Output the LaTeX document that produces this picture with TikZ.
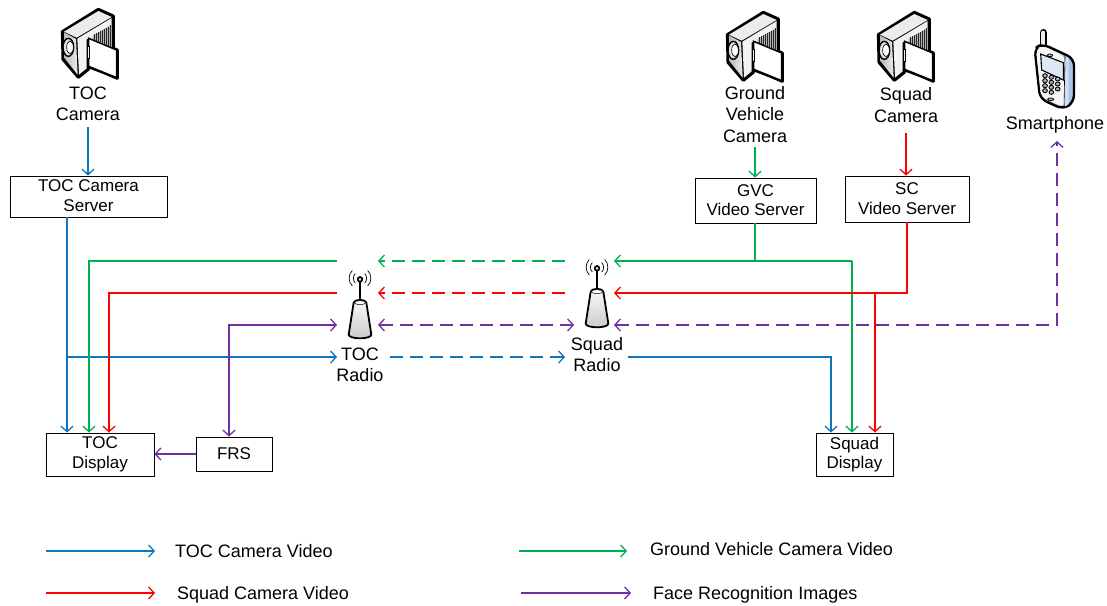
\documentclass[tikz,border=0pt]{standalone}
\usepackage{fontspec}
\setmainfont{Liberation Sans}
\usetikzlibrary{arrows.meta,calc}
\definecolor{cblue}{HTML}{0F75BD}
\definecolor{cgreen}{HTML}{00B050}
\definecolor{cred}{HTML}{FF0000}
\definecolor{cpurple}{HTML}{7030A0}
\definecolor{phblue}{HTML}{A9C4E6}
\tikzset{
  x=1pt,y=-1pt,
  conn/.style={line width=1.3pt,-{Straight Barb[length=5.5pt,width=12pt,line width=1.3pt]}},
  plainln/.style={line width=1.3pt},
  bothln/.style={line width=1.3pt,{Straight Barb[length=5.5pt,width=12pt,line width=1.3pt]}-{Straight Barb[length=5.5pt,width=12pt,line width=1.3pt]}},
  dashln/.style={dash pattern=on 13pt off 7pt},
  lab/.style={align=center,inner sep=0pt,font=\fontsize{18}{21.5}\selectfont},
  legendtxt/.style={inner sep=0pt,font=\fontsize{18}{21}\selectfont},
  boxn/.style={draw,line width=0.9pt,fill=white,align=center,inner sep=0pt,font=\fontsize{17}{20}\selectfont},
  camera/.pic={
    \begin{scope}[scale=1/3]
      \fill[black,draw=black,line width=3pt,line join=round]
        (97,95)--(205,28)--(250,48)--(250,145)--(262,150)--(262,235)--(222,218)--(175,200)--(175,208)--(145,232)--(99,178)--cycle;
      \fill[gray!15] (102,95)--(205,33)--(245,51)--(140,113)--cycle;
      \shade[left color=gray!55,right color=gray!15] (102,97)--(138,117)--(143,224)--(103,174)--cycle;
      \fill[gray!10] (142,116)--(245,54)--(245,145)--(178,115)--(170,118)--(170,205)--(147,224)--cycle;
      \fill[gray!60] (188,108)--(245,74)--(245,140)--(188,118)--cycle;
      \foreach \u in {194,200,...,242}{\draw[black!85,line width=.4pt] (\u,{105-(\u-190)*.55})--(\u,{118+(\u-190)*.42});}
      \draw[line width=1.4pt,fill=gray!25] (115,142) ellipse (16 and 27);
      \draw[line width=.6pt,fill=white] (120,142) ellipse (10 and 19);
      \draw[line width=1.5pt,fill=white] (176,115)--(260,150)--(260,233)--(176,199)--cycle;
      \draw[line width=.9pt,fill=gray!10] (171,140) rectangle (178,175);
    \end{scope}
  },
  radio/.pic={
    \begin{scope}[scale=1/3]
      \draw[line width=.7pt] (106,99) arc[start angle=135,end angle=225,radius=20];
      \draw[line width=.7pt] (134,99) arc[start angle=45,end angle=-45,radius=20];
      \draw[line width=.7pt] (97,108) arc[start angle=135,end angle=225,radius=33];
      \draw[line width=.7pt] (143,108) arc[start angle=45,end angle=-45,radius=33];
      \draw[line width=1.8pt] (120,90)--(120,152);
      \draw[line width=1.6pt,fill=gray!30] (120,88) circle (7);
      \draw[line width=1.8pt,top color=gray!5,bottom color=gray!40] (101,158)--(86,254) arc[start angle=180,end angle=0,x radius=34,y radius=11]--(139,158) arc[start angle=0,end angle=-180,x radius=19,y radius=8];
      \draw[line width=.5pt,fill=white] (120,158) ellipse (17 and 6);
    \end{scope}
  },
  phone/.pic={
    \begin{scope}[scale=1/3]
      \draw[line width=7.4pt,line cap=round] (130,38)--(130,78);
      \draw[line width=4pt,line cap=round,gray!15] (130,38)--(130,78);
      \draw[line width=2.4pt,line join=round,fill=phblue,rounded corners=7pt] (104,84)--(128,72)--(222,116)--(222,246)--(190,268)--(120,236)--cycle;
      \fill[gray!8,rounded corners=5pt] (108,87)--(128,77)--(196,110)--(193,262)--(123,231)--cycle;
      \fill[phblue!55!white] (196,108)--(206,114)--(206,252)--(195,260)--cycle;
      \draw[line width=.6pt] (195,108)--(192,263);
      \draw[line width=1.1pt,fill=phblue!40] (122,102)--(190,128)--(190,180)--(125,150)--cycle;
      \draw[line width=.8pt,fill=gray!50] (150,106) ellipse (8 and 4);
      \draw[line width=.8pt,fill=gray!50] (152,238) ellipse (9 and 4);
      \foreach \c/\r in {0/0,1/0,2/0,0/1,1/1,2/1,0/2,1/2,2/2,0/3,1/3}{
        \draw[line width=.9pt,fill=gray!60] ({135+\c*19},{167+\r*15+\c*5}) ellipse (7 and 6);}
    \end{scope}
  }
}
\begin{document}
\begin{tikzpicture}
\useasboundingbox (0,0) rectangle (1107,605);
% icons
\pic at (30,0) {camera};
\pic at (695,3) {camera};
\pic at (846,3) {camera};
\pic at (1000,20) {phone};
\pic at (320,250) {radio};
\pic at (557,239) {radio};
% labels
\node[lab] (toccam) at (88,104) {TOC\\Camera};
\node[lab] (gvcam) at (755,114.5) {Ground\\Vehicle\\Camera};
\node[lab] (sqcam) at (906,105) {Squad\\Camera};
\node[lab] (smart) at (1055,125) {Smartphone};
\node[lab] (tocradio) at (360,365) {TOC\\Radio};
\node[lab] (sqradio) at (597,354.5) {Squad\\Radio};
% boxes
\node[boxn,minimum width=157pt,minimum height=41pt] (tocserver) at (88.5,196.5) {\raisebox{1pt}{\shortstack{TOC Camera\\[5pt]Server}}};
\node[boxn,minimum width=121pt,minimum height=45pt] (gvcserver) at (755.5,200.5) {\raisebox{1pt}{\shortstack{GVC\\[3pt]Video Server}}};
\node[boxn,minimum width=124pt,minimum height=46pt] (scserver) at (907,199) {\raisebox{1pt}{\shortstack{SC\\[5pt]Video Server}}};
\node[boxn,minimum width=108pt,minimum height=43pt] (tocdisp) at (100,454.5) {\raisebox{-2.5pt}{\shortstack{TOC\\[4pt]Display}}};
\node[boxn,minimum width=76pt,minimum height=34pt] (frs) at (234,454) {FRS};
\node[boxn,minimum width=77pt,minimum height=43pt] (sqdisp) at (854.5,454.5) {\raisebox{-2.5pt}{\shortstack{Squad\\[0pt]Display}}};
% junctions and stops
\coordinate (bTa) at (67,357);
\coordinate (bTb) at (337,357);
\coordinate (bTc) at (390,357);
\coordinate (bTd) at (565,357);
\coordinate (bTe) at (628,357);
\coordinate (bTf) at (831,357);
\coordinate (gRa) at (337,261);
\coordinate (gRb) at (89,261);
\coordinate (gRc) at (378,261);
\coordinate (gSa) at (565,261);
\coordinate (gSb) at (614,261);
\coordinate (gJ) at (755,261);
\coordinate (gD) at (852,261);
\coordinate (rRa) at (337,293);
\coordinate (rRb) at (109,293);
\coordinate (rRc) at (378,293);
\coordinate (rSa) at (565,293);
\coordinate (rSb) at (614,293);
\coordinate (rJ) at (875,293);
\coordinate (rC) at (907,293);
\coordinate (pRa) at (337,325);
\coordinate (pRb) at (229,325);
\coordinate (pRc) at (378,325);
\coordinate (pSa) at (574,325);
\coordinate (pSb) at (614,325);
\coordinate (pP) at (1057,325);
\coordinate (pPt) at (1057,141);
% blue
\draw[conn,cblue] (88,127) coordinate (tcS) -- (tcS |- tocserver.north);
\draw[conn,cblue] (bTa |- tocserver.south) -- (bTa |- tocdisp.north);
\draw[conn,cblue] (bTa) -- (bTb);
\draw[conn,cblue,dashln] (bTc) -- (bTd);
\draw[conn,cblue] (bTe) -- (bTf) -- (bTf |- sqdisp.north);
% green
\draw[conn,cgreen] (755,147) coordinate (gcS) -- (gcS |- gvcserver.north);
\draw[conn,cgreen] (gRa) -- (gRb) -- (gRb |- tocdisp.north);
\draw[conn,cgreen,dashln] (gSa) -- (gRc);
\draw[plainln,cgreen] (gJ |- gvcserver.south) -- (gJ);
\draw[conn,cgreen] (gD) -- (gSb);
\draw[conn,cgreen] (gD) -- (gD |- sqdisp.north);
% red
\draw[conn,cred] (906,133) coordinate (rcS) -- (rcS |- scserver.north);
\draw[conn,cred] (rRa) -- (rRb) -- (rRb |- tocdisp.north);
\draw[conn,cred,dashln] (rSa) -- (rRc);
\draw[conn,cred] (rC |- scserver.south) -- (rC) -- (rSb);
\draw[conn,cred] (rJ) -- (rJ |- sqdisp.north);
% purple
\draw[bothln,cpurple] (pRa) -- (pRb) -- (pRb |- frs.north);
\draw[bothln,cpurple,dashln] (pRc) -- (pSa);
\draw[bothln,cpurple,dashln] (pSb) -- (pP) -- (pPt);
\draw[conn,cpurple] (frs.west) -- (tocdisp.east |- frs.west);
% legend
\coordinate (l1a) at (46,551); \coordinate (l1b) at (155,551);
\coordinate (l2a) at (519,551); \coordinate (l2b) at (627,551);
\coordinate (l3a) at (46,593); \coordinate (l3b) at (155,593);
\coordinate (l4a) at (521,593); \coordinate (l4b) at (631,593);
\draw[conn,cblue] (l1a) -- (l1b);
\draw[conn,cgreen] (l2a) -- (l2b);
\draw[conn,cred] (l3a) -- (l3b);
\draw[conn,cpurple] (l4a) -- (l4b);
\node[legendtxt,anchor=base west] (t1) at (175,557) {TOC Camera Video};
\node[legendtxt,anchor=base west] (t2) at (650,555) {Ground Vehicle Camera Video};
\node[legendtxt,anchor=base west] (t3) at (177,599) {Squad Camera Video};
\node[legendtxt,anchor=base west] (t4) at (653,599) {Face Recognition Images};
\end{tikzpicture}
\end{document}
